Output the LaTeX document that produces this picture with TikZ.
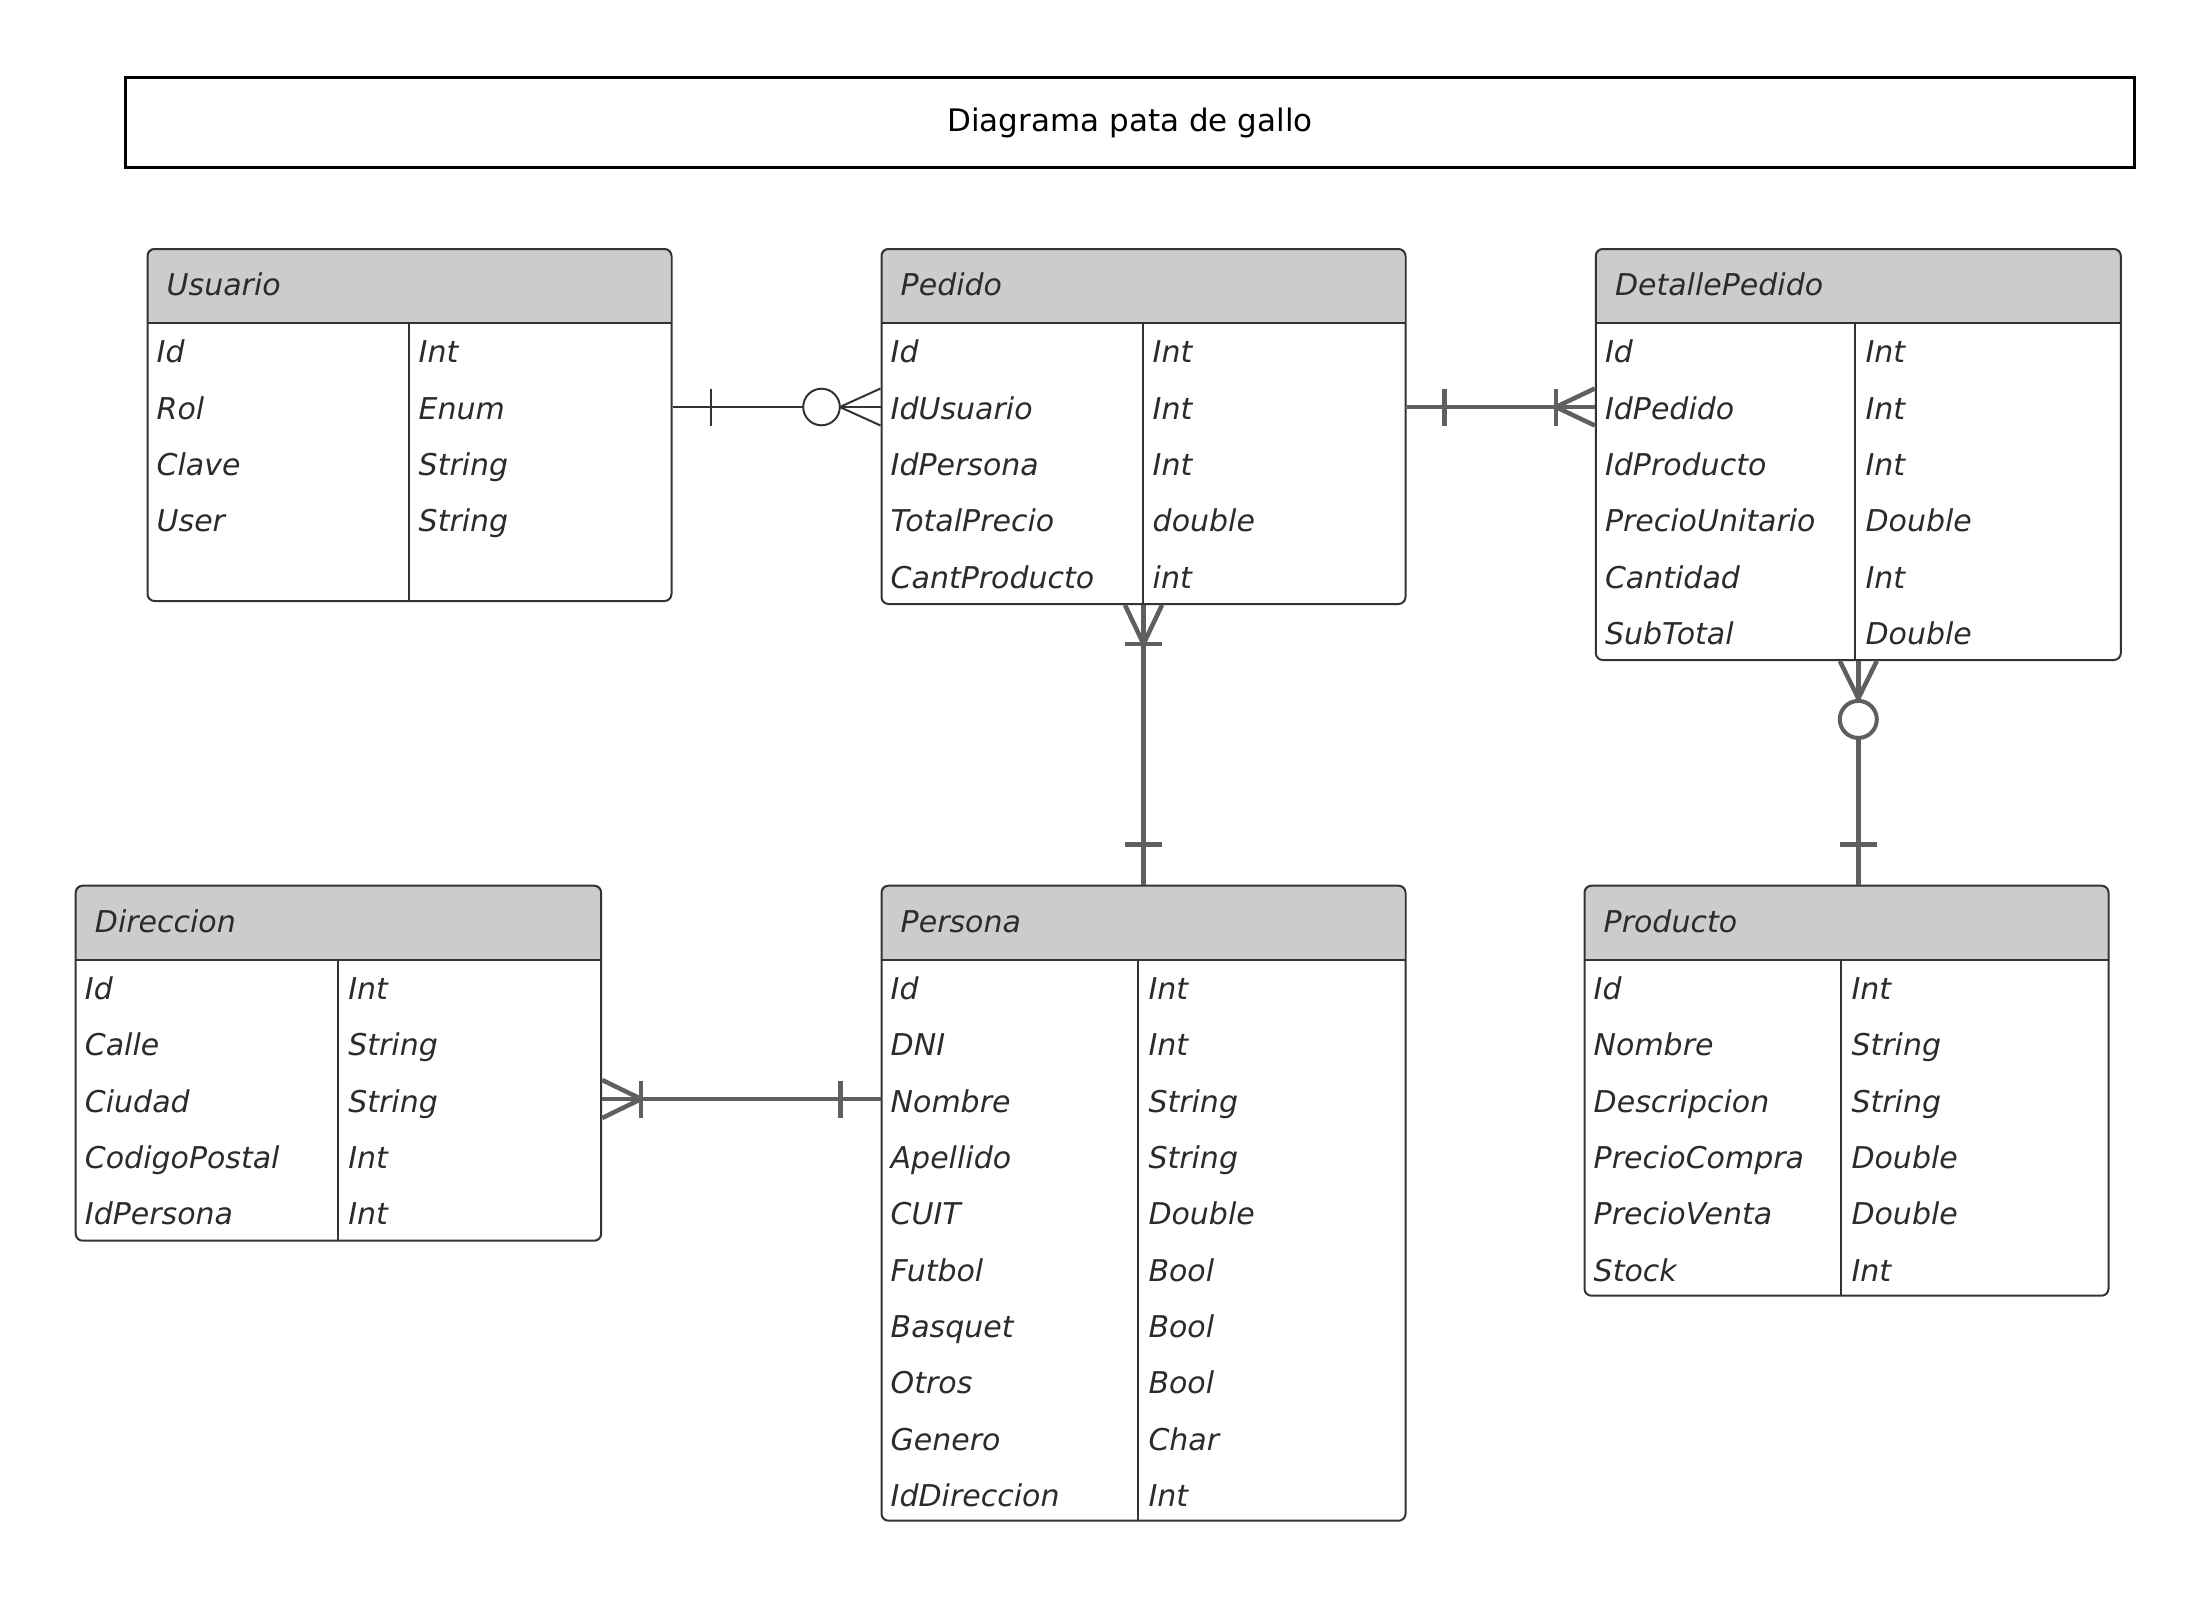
\documentclass[tikz,border=0pt]{standalone}
\usepackage{fontspec}
\setmainfont{DejaVu Sans}
\usetikzlibrary{calc}
\definecolor{bordc}{HTML}{333333}
\definecolor{headc}{HTML}{CCCCCC}
\definecolor{connc}{HTML}{5F5F5F}
\definecolor{txtc}{HTML}{2B2B2B}
\tikzset{
  tbl/.style={draw=bordc, line width=2pt, rounded corners=7pt, inner sep=0pt},
  tblline/.style={draw=bordc, line width=2pt},
  attr/.style={font=\itshape\fontsize{30}{36}\selectfont, text=txtc, inner sep=0pt},
  thinconn/.style={draw=bordc, line width=2pt},
  thickconn/.style={draw=connc, line width=4.5pt},
  titlebox/.style={draw=black, line width=3pt, inner sep=0pt, font=\fontsize{31}{37}\selectfont, text=black},
}
% #1 name, #2 left, #3 top, #4 width, #5 height, #6 divider offset, #7 title, #8 rows
\newcommand\ertable[8]{%
  \begin{scope}
    \clip[rounded corners=7pt] (#2,#3) rectangle ++(#4,#5);
    \fill[headc] (#2,#3) rectangle ++(#4,75);
  \end{scope}
  \node[tbl, minimum width=#4pt, minimum height=#5pt, anchor=north west] (#1) at (#2,#3) {};
  \draw[tblline] (#2,#3+75) -- ++(#4,0);
  \draw[tblline] (#2+#6,#3+75) -- (#2+#6,#3+#5);
  \node[attr, anchor=mid west] (#1-h) at ({#2+20},{#3+45}) {#7};
  \foreach \n/\t [count=\i] in {#8} {
    \node[attr, anchor=mid west] (#1-r\i) at ({#2+10},{#3+75+37+(\i-1)*56.35}) {\n};
    \node[attr, anchor=mid west] (#1-t\i) at ({#2+#6+10},{#3+75+37+(\i-1)*56.35}) {\t};
  }%
}
\begin{document}
\begin{tikzpicture}[x=1pt,y=-1pt]
\useasboundingbox[fill=white] (0,0) rectangle (2209,1596);

\node[titlebox, minimum width=2009pt, minimum height=90pt, anchor=north west] (title) at (124,76) {Diagrama pata de gallo};

\ertable{usuario}{146.5}{248}{524}{352}{262}{Usuario}{Id/Int, Rol/Enum, Clave/String, User/String}
\ertable{pedido}{880.5}{248}{524}{355}{262}{Pedido}{Id/Int, IdUsuario/Int, IdPersona/Int, TotalPrecio/double, CantProducto/int}
\ertable{detalle}{1594.8}{248}{525}{411}{260.6}{DetallePedido}{Id/Int, IdPedido/Int, IdProducto/Int, PrecioUnitario/Double, Cantidad/Int, SubTotal/Double}
\ertable{direccion}{74.7}{884.7}{525.5}{355}{263.4}{Direccion}{Id/Int, Calle/String, Ciudad/String, CodigoPostal/Int, IdPersona/Int}
\ertable{persona}{880.5}{884.7}{524}{635}{257.8}{Persona}{Id/Int, DNI/Int, Nombre/String, Apellido/String, CUIT/Double, Futbol/Bool, Basquet/Bool, Otros/Bool, Genero/Char, IdDireccion/Int}
\ertable{producto}{1583.5}{884.7}{524}{410}{257.8}{Producto}{Id/Int, Nombre/String, Descripcion/String, PrecioCompra/Double, PrecioVenta/Double, Stock/Int}

% Usuario -- Pedido (one to zero-or-many)
\coordinate (c1a) at (usuario.east |- 0,407);
\coordinate (c1b) at (pedido.west |- 0,407);
\draw[thinconn] (c1a) -- (c1b);
\draw[thinconn] ($(c1a)+(38,-18.5)$) -- ($(c1a)+(38,18.5)$);
\draw[thinconn, fill=white] ($(c1b)+(-59,0)$) circle[radius=18.3pt];
\draw[thinconn] ($(c1b)+(-40.7,0)$) -- ($(c1b)+(0,-18.5)$);
\draw[thinconn] ($(c1b)+(-40.7,0)$) -- ($(c1b)+(0,18.5)$);

% Pedido -- DetallePedido (one to one-or-many)
\coordinate (c2a) at (pedido.east |- 0,407);
\coordinate (c2b) at (detalle.west |- 0,407);
\draw[thickconn] (c2a) -- (c2b);
\draw[thickconn] ($(c2a)+(38,-18.5)$) -- ($(c2a)+(38,18.5)$);
\draw[thickconn] ($(c2b)+(-39,-18.5)$) -- ($(c2b)+(-39,18.5)$);
\draw[thickconn] ($(c2b)+(-39,0)$) -- ($(c2b)+(0,-18.5)$);
\draw[thickconn] ($(c2b)+(-39,0)$) -- ($(c2b)+(0,18.5)$);

% Pedido -- Persona (one-or-many to one)
\draw[thickconn] (pedido.south) -- (persona.north);
\draw[thickconn] ($(pedido.south)+(0,39)$) -- ($(pedido.south)+(-18.5,0)$);
\draw[thickconn] ($(pedido.south)+(0,39)$) -- ($(pedido.south)+(18.5,0)$);
\draw[thickconn] ($(pedido.south)+(-18.5,39)$) -- ($(pedido.south)+(18.5,39)$);
\draw[thickconn] ($(persona.north)+(-18.5,-40)$) -- ($(persona.north)+(18.5,-40)$);

% DetallePedido -- Producto (zero-or-many to one)
\coordinate (c4b) at (detalle.south |- producto.north);
\draw[thickconn] (detalle.south) -- (c4b);
\draw[thickconn] ($(detalle.south)+(0,37.4)$) -- ($(detalle.south)+(-18.5,0)$);
\draw[thickconn] ($(detalle.south)+(0,37.4)$) -- ($(detalle.south)+(18.5,0)$);
\draw[thickconn, line width=4pt, fill=white] ($(detalle.south)+(0,58.4)$) circle[radius=18.5pt];
\draw[thickconn] ($(c4b)+(-18.5,-40)$) -- ($(c4b)+(18.5,-40)$);

% Direccion -- Persona (one-or-many to one)
\coordinate (c5a) at (direccion.east |- 0,1099);
\coordinate (c5b) at (persona.west |- 0,1099);
\draw[thickconn] (c5a) -- (c5b);
\draw[thickconn] ($(c5a)+(39,0)$) -- ($(c5a)+(0,-19)$);
\draw[thickconn] ($(c5a)+(39,0)$) -- ($(c5a)+(0,19)$);
\draw[thickconn] ($(c5a)+(39,-18.5)$) -- ($(c5a)+(39,18.5)$);
\draw[thickconn] ($(c5b)+(-39.8,-18.5)$) -- ($(c5b)+(-39.8,18.5)$);
\end{tikzpicture}
\end{document}
